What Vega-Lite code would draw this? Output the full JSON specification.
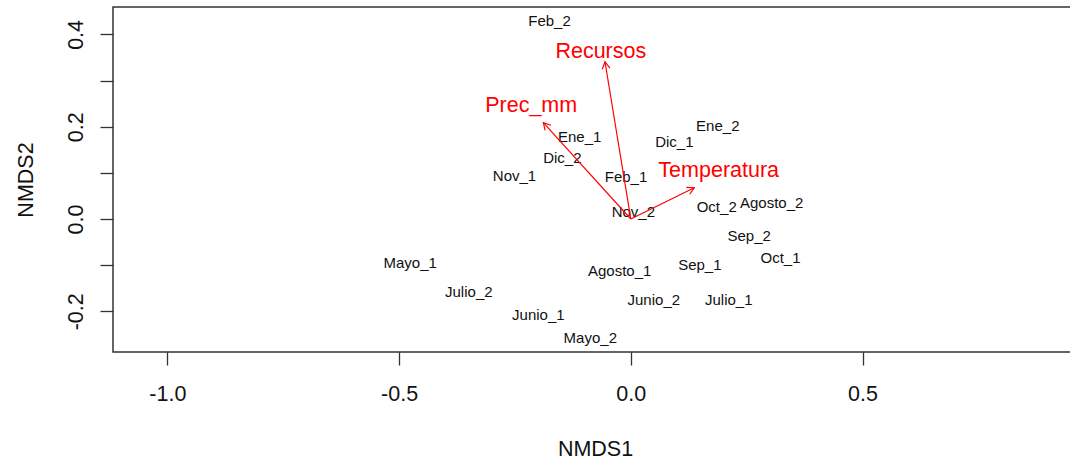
{
  "$schema": "https://vega.github.io/schema/vega-lite/v6.json",
  "width": 966,
  "height": 345,
  "autosize": {"type": "none"},
  "padding": {"left": 113, "top": 7, "right": -9, "bottom": 107},
  "background": "white",
  "config": {
    "view": {"stroke": "#333", "strokeWidth": 1.5},
    "font": "Liberation Sans",
    "axis": {
      "domain": false,
      "grid": false,
      "tickColor": "#333",
      "tickWidth": 1.3,
      "tickSize": 13,
      "labelFont": "Liberation Sans",
      "labelFontSize": 21.5,
      "labelColor": "#111",
      "labelFlush": false,
      "labelOverlap": false,
      "labelBound": false,
      "titleFont": "Liberation Sans",
      "titleFontSize": 21.5,
      "titleFontWeight": "normal",
      "titleColor": "#111"
    }
  },
  "datasets": {
    "sites": [
      {"label": "Feb_2", "NMDS1": -0.1754, "NMDS2": 0.430},
      {"label": "Ene_1", "NMDS1": -0.1103, "NMDS2": 0.1783},
      {"label": "Dic_2", "NMDS1": -0.1478, "NMDS2": 0.1315},
      {"label": "Nov_1", "NMDS1": -0.251, "NMDS2": 0.0936},
      {"label": "Feb_1", "NMDS1": -0.0104, "NMDS2": 0.091},
      {"label": "Dic_1", "NMDS1": 0.0939, "NMDS2": 0.1668},
      {"label": "Ene_2", "NMDS1": 0.1877, "NMDS2": 0.2026},
      {"label": "Nov_2", "NMDS1": 0.0054, "NMDS2": 0.0158},
      {"label": "Oct_2", "NMDS1": 0.1854, "NMDS2": 0.0267},
      {"label": "Agosto_2", "NMDS1": 0.304, "NMDS2": 0.034},
      {"label": "Sep_2", "NMDS1": 0.2555, "NMDS2": -0.0368},
      {"label": "Oct_1", "NMDS1": 0.323, "NMDS2": -0.0852},
      {"label": "Mayo_1", "NMDS1": -0.476, "NMDS2": -0.0947},
      {"label": "Agosto_1", "NMDS1": -0.024, "NMDS2": -0.112},
      {"label": "Sep_1", "NMDS1": 0.149, "NMDS2": -0.0997},
      {"label": "Julio_2", "NMDS1": -0.3496, "NMDS2": -0.1575},
      {"label": "Junio_2", "NMDS1": 0.0496, "NMDS2": -0.1755},
      {"label": "Julio_1", "NMDS1": 0.2113, "NMDS2": -0.1755},
      {"label": "Junio_1", "NMDS1": -0.1996, "NMDS2": -0.2091},
      {"label": "Mayo_2", "NMDS1": -0.0874, "NMDS2": -0.2585}
    ],
    "vectors": [
      {"var": "Recursos", "ox": 0, "oy": 0, "NMDS1": -0.0557, "NMDS2": 0.3408, "lx": -0.0647, "ly": 0.362},
      {"var": "Prec_mm", "ox": 0, "oy": 0, "NMDS1": -0.1888, "NMDS2": 0.2087, "lx": -0.215, "ly": 0.2453},
      {"var": "Temperatura", "ox": 0, "oy": 0, "NMDS1": 0.137, "NMDS2": 0.0678, "lx": 0.1897, "ly": 0.1047}
    ]
  },
  "layer": [
    {
      "data": {"name": "sites"},
      "mark": {"type": "text", "fontSize": 15, "color": "#111", "align": "center", "baseline": "middle", "font": "Liberation Sans"},
      "encoding": {
        "x": {
          "field": "NMDS1", "type": "quantitative",
          "scale": {"domain": [-1.1174, 0.9672], "nice": false, "zero": false},
          "axis": {
            "orient": "bottom",
            "title": "NMDS1",
            "values": [-1, -0.5, 0, 0.5],
            "labelExpr": "datum.value < 0 ? '-' + format(-datum.value, '.1f') : format(datum.value, '.1f')",
            "labelBaseline": "alphabetic",
            "labelAlign": "center",
            "labelPadding": 35.7,
            "titleX": 482,
            "titleY": 103,
            "titleAlign": "center",
            "titleBaseline": "alphabetic"
          }
        },
        "y": {
          "field": "NMDS2", "type": "quantitative",
          "scale": {"domain": [-0.2882, 0.4594], "nice": false, "zero": false},
          "axis": {
            "orient": "left",
            "title": "NMDS2",
            "values": [-0.2, -0.1, 0, 0.1, 0.2, 0.3, 0.4],
            "labelExpr": "abs(round(datum.value * 10)) % 2 == 1 ? '' : (datum.value < 0 ? '-' + format(-datum.value, '.1f') : format(datum.value, '.1f'))",
            "labelAngle": -90,
            "labelAlign": "center",
            "labelBaseline": "alphabetic",
            "labelPadding": 18,
            "titleAngle": -90,
            "titleAlign": "center",
            "titleBaseline": "alphabetic",
            "titleX": -80.7,
            "titleY": 172.5
          }
        },
        "text": {"field": "label"}
      }
    },
    {
      "data": {"name": "vectors"},
      "mark": {"type": "rule", "color": "#ff0000", "strokeWidth": 1.2},
      "encoding": {
        "x": {"field": "ox", "type": "quantitative", "title": "NMDS1", "scale": {"domain": [-1.1174, 0.9672], "nice": false, "zero": false}},
        "y": {"field": "oy", "type": "quantitative", "title": "NMDS2", "scale": {"domain": [-0.2882, 0.4594], "nice": false, "zero": false}},
        "x2": {"field": "NMDS1"},
        "y2": {"field": "NMDS2"}
      }
    },
    {
      "data": {"name": "vectors"},
      "transform": [{"calculate": "atan2(datum.NMDS1, datum.NMDS2) * 180 / PI", "as": "ang"}],
      "mark": {"type": "point", "shape": "M-0.55,1L0,0L0.55,1", "size": 196, "filled": false, "color": "#ff0000", "strokeWidth": 1.2, "opacity": 1},
      "encoding": {
        "x": {"field": "NMDS1", "type": "quantitative", "title": "NMDS1", "scale": {"domain": [-1.1174, 0.9672], "nice": false, "zero": false}},
        "y": {"field": "NMDS2", "type": "quantitative", "title": "NMDS2", "scale": {"domain": [-0.2882, 0.4594], "nice": false, "zero": false}},
        "angle": {"field": "ang", "type": "quantitative", "scale": null}
      }
    },
    {
      "data": {"name": "vectors"},
      "mark": {"type": "text", "fontSize": 21.5, "color": "#ff0000", "align": "center", "baseline": "middle", "font": "Liberation Sans"},
      "encoding": {
        "x": {"field": "lx", "type": "quantitative", "title": "NMDS1", "scale": {"domain": [-1.1174, 0.9672], "nice": false, "zero": false}},
        "y": {"field": "ly", "type": "quantitative", "title": "NMDS2", "scale": {"domain": [-0.2882, 0.4594], "nice": false, "zero": false}},
        "text": {"field": "var"}
      }
    }
  ]
}
